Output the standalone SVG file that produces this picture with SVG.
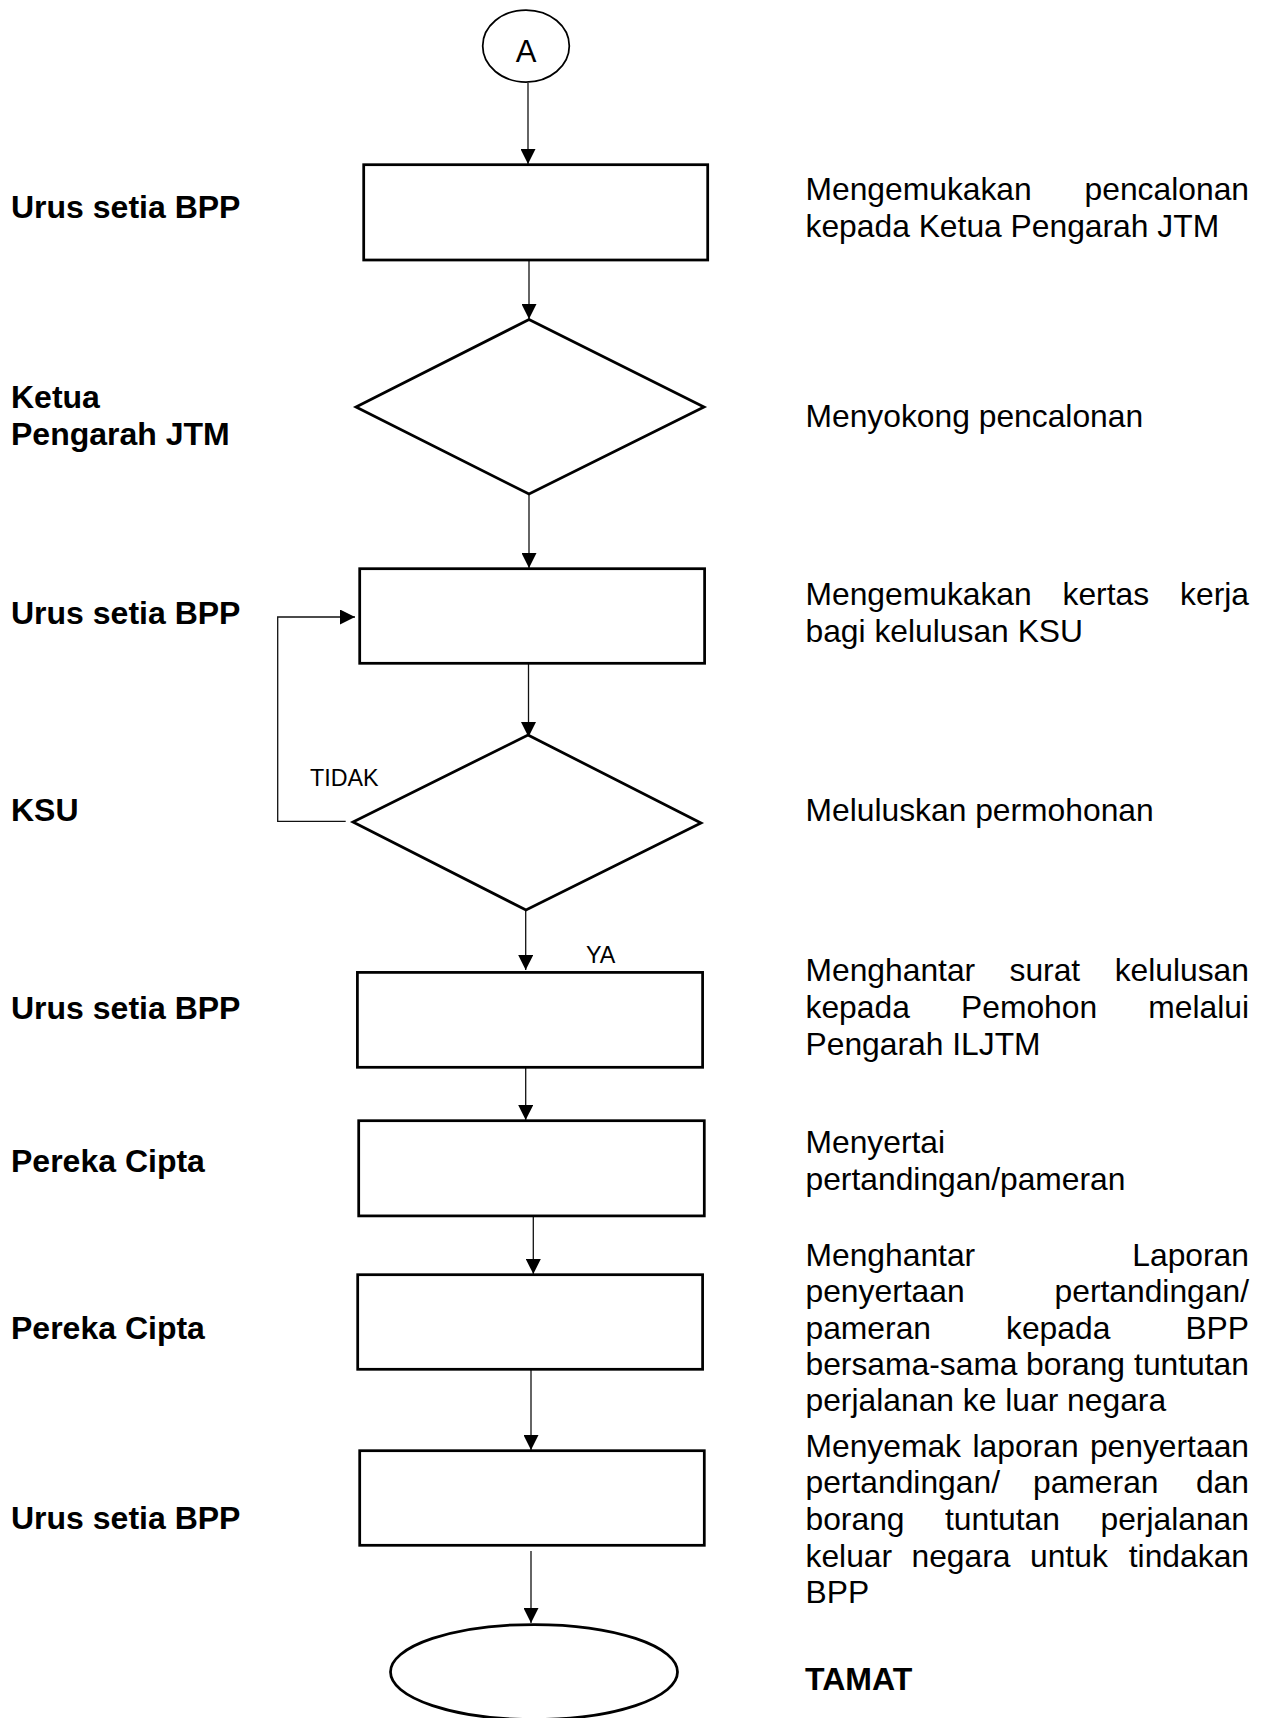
<svg xmlns="http://www.w3.org/2000/svg" width="1262" height="1718" viewBox="0 0 1262 1718">
  <style>
    .shape { fill: #ffffff; stroke: #000000; stroke-width: 2.75; }
    .thin { fill: #ffffff; stroke: #000000; stroke-width: 1.75; }
    .conn { fill: none; stroke: #111111; stroke-width: 1.3; marker-end: url(#arrow); }
    .role { font-family: "Liberation Sans", Arial, sans-serif; font-weight: bold; font-size: 32px; fill: #000000; }
    .desc { font-family: "Liberation Sans", Arial, sans-serif; font-size: 31.8px; fill: #000000; }
    .end { text-anchor: end; }
    .branch { font-family: "Liberation Sans", Arial, sans-serif; font-size: 23.3px; fill: #000000; }
  </style>
  <defs>
    <marker id="arrow" viewBox="0 0 15 15" refX="15" refY="7.5" markerWidth="15" markerHeight="15" markerUnits="userSpaceOnUse" orient="auto">
      <path d="M0,0 L15,7.5 L0,15 Z" fill="#000000"/>
    </marker>
  </defs>

  <!-- role labels (left column) -->
  <g id="roles">
    <text class="role" x="11" y="218">Urus setia BPP</text>
    <text class="role" x="11" y="408">Ketua</text>
    <text class="role" x="11" y="445">Pengarah JTM</text>
    <text class="role" x="11" y="624">Urus setia BPP</text>
    <text class="role" x="11" y="821">KSU</text>
    <text class="role" x="11" y="1019">Urus setia BPP</text>
    <text class="role" x="11" y="1172">Pereka Cipta</text>
    <text class="role" x="11" y="1339">Pereka Cipta</text>
    <text class="role" x="11" y="1529">Urus setia BPP</text>
  </g>

  <!-- connectors -->
  <g id="connectors">
    <line class="conn" x1="528" y1="83" x2="528" y2="164"/>
    <line class="conn" x1="529" y1="261" x2="529" y2="319"/>
    <line class="conn" x1="529" y1="494" x2="529" y2="568"/>
    <line class="conn" x1="528.5" y1="664" x2="528.5" y2="737"/>
    <path class="conn" d="M345.7,821.3 H277.7 V617 H355"/>
    <line class="conn" x1="525.7" y1="910" x2="525.7" y2="970"/>
    <line class="conn" x1="525.7" y1="1066" x2="525.7" y2="1120"/>
    <line class="conn" x1="533.3" y1="1217" x2="533.3" y2="1274"/>
    <line class="conn" x1="531" y1="1367" x2="531" y2="1450"/>
    <line class="conn" x1="531" y1="1551" x2="531" y2="1623"/>
    <text class="branch" x="310" y="786">TIDAK</text>
    <text class="branch" x="586" y="963">YA</text>
  </g>

  <!-- start connector -->
  <g id="start">
    <ellipse class="thin" cx="526" cy="46" rx="43.3" ry="36"/>
    <text class="desc" x="526" y="62" text-anchor="middle" style="font-size:31px">A</text>
  </g>

  <!-- step 1: submit nomination -->
  <g id="step1">
    <rect class="shape" x="363.7" y="164.7" width="344" height="95.3"/>
    <text class="desc" x="805.5" y="200">Mengemukakan</text>
    <text class="desc end" x="1249" y="200">pencalonan</text>
    <text class="desc" x="805.5" y="237">kepada Ketua Pengarah JTM</text>
  </g>

  <!-- decision 1: support nomination -->
  <g id="decision1">
    <polygon class="shape" points="529,319.5 704,407 529,494 356,407"/>
    <text class="desc" x="805.5" y="427">Menyokong pencalonan</text>
  </g>

  <!-- step 2: working paper -->
  <g id="step2">
    <rect class="shape" x="359.7" y="568.7" width="344.9" height="94.6"/>
    <text class="desc" x="805.5" y="605">Mengemukakan</text>
    <text class="desc" x="1062.5" y="605">kertas</text>
    <text class="desc end" x="1249" y="605">kerja</text>
    <text class="desc" x="805.5" y="642">bagi kelulusan KSU</text>
  </g>

  <!-- decision 2: approval -->
  <g id="decision2">
    <polygon class="shape" points="528,735 701,823 526,910 353,822"/>
    <text class="desc" x="805.5" y="821">Meluluskan permohonan</text>
  </g>

  <!-- step 3: approval letter -->
  <g id="step3">
    <rect class="shape" x="357.4" y="972.4" width="345.2" height="94.9"/>
    <text class="desc" x="805.5" y="981">Menghantar</text>
    <text class="desc" x="1009.5" y="981">surat</text>
    <text class="desc end" x="1249" y="981">kelulusan</text>
    <text class="desc" x="805.5" y="1018">kepada</text>
    <text class="desc" x="961" y="1018">Pemohon</text>
    <text class="desc end" x="1249" y="1018">melalui</text>
    <text class="desc" x="805.5" y="1055">Pengarah ILJTM</text>
  </g>

  <!-- step 4: attend competition -->
  <g id="step4">
    <rect class="shape" x="358.7" y="1120.7" width="345.6" height="95.2"/>
    <text class="desc" x="805.5" y="1153">Menyertai</text>
    <text class="desc" x="805.5" y="1190">pertandingan/pameran</text>
  </g>

  <!-- step 5: submit report -->
  <g id="step5">
    <rect class="shape" x="357.7" y="1274.7" width="344.9" height="94.6"/>
    <text class="desc" x="805.5" y="1266">Menghantar</text>
    <text class="desc end" x="1249" y="1266">Laporan</text>
    <text class="desc" x="805.5" y="1302">penyertaan</text>
    <text class="desc end" x="1249" y="1302">pertandingan/</text>
    <text class="desc" x="805.5" y="1339">pameran</text>
    <text class="desc" x="1006" y="1339">kepada</text>
    <text class="desc end" x="1249" y="1339">BPP</text>
    <text class="desc" x="805.5" y="1375">bersama-sama</text>
    <text class="desc" x="1026" y="1375">borang</text>
    <text class="desc end" x="1249" y="1375">tuntutan</text>
    <text class="desc" x="805.5" y="1411">perjalanan ke luar negara</text>
  </g>

  <!-- step 6: review report -->
  <g id="step6">
    <rect class="shape" x="359.7" y="1450.7" width="344.6" height="94.6"/>
    <text class="desc" x="805.5" y="1457">Menyemak</text>
    <text class="desc" x="972.5" y="1457">laporan</text>
    <text class="desc end" x="1249" y="1457">penyertaan</text>
    <text class="desc" x="805.5" y="1493">pertandingan/</text>
    <text class="desc" x="1033" y="1493">pameran</text>
    <text class="desc end" x="1249" y="1493">dan</text>
    <text class="desc" x="805.5" y="1530">borang</text>
    <text class="desc" x="945" y="1530">tuntutan</text>
    <text class="desc end" x="1249" y="1530">perjalanan</text>
    <text class="desc" x="805.5" y="1567">keluar</text>
    <text class="desc" x="911.5" y="1567">negara</text>
    <text class="desc" x="1030" y="1567">untuk</text>
    <text class="desc end" x="1249" y="1567">tindakan</text>
    <text class="desc" x="805.5" y="1603">BPP</text>
  </g>

  <!-- terminator -->
  <g id="finish">
    <ellipse class="shape" cx="534" cy="1672" rx="143.5" ry="47.5"/>
    <text class="role" x="805" y="1690">TAMAT</text>
  </g>
</svg>
